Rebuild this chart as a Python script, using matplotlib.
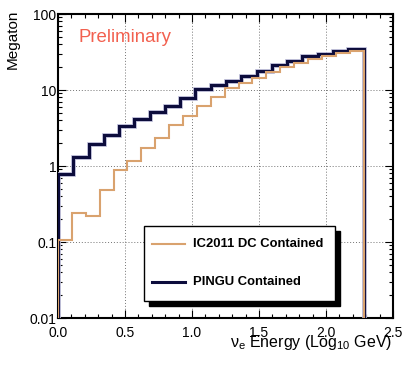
import numpy as np
import matplotlib
matplotlib.use("Agg")
import matplotlib.pyplot as plt
import matplotlib.ticker as ticker
import matplotlib.patheffects as pe
from matplotlib.patches import Rectangle
from matplotlib.lines import Line2D

# data
e_max = 2.28  # upper edge of both histograms, log10 GeV
ic2011 = [0.106, 0.243, 0.22, 0.48, 0.89, 1.15, 1.74, 2.36, 3.43, 4.6, 6.15,
          8.1, 10.5, 12.4, 14.6, 17.5, 20.1, 22.6, 25.6, 27.7, 30.6, 33.0]
pingu = [0.79, 1.31, 1.92, 2.56, 3.36, 4.19, 5.13, 6.08, 7.85, 10.3,
         11.5, 13.2, 15.4, 17.9, 21.1, 24.4, 28.3, 30.1, 32.3, 34.7]
labels = ["IC2011 DC Contained", "PINGU Contained"]
colors = ["#d9a26e", "#0c0c3c"]
ytick_labels = ["0.01", "0.1", "1", "10", "100"]

plt.rcParams["font.family"] = ["Liberation Sans", "DejaVu Sans"]
plt.rcParams["mathtext.default"] = "regular"

W, H = 415, 366
fig = plt.figure(figsize=(W / 100, H / 100), dpi=100)
ax = fig.add_axes([58 / W, 1 - 318 / H, (393 - 58) / W, (318 - 14) / H])

ymin = 0.01
halo = [pe.Stroke(linewidth=3.4, foreground="#b8b8d4"), pe.Normal()]
ax.stairs(pingu, np.linspace(0, e_max, len(pingu) + 1), baseline=ymin,
          color=colors[1], lw=2.2, path_effects=halo, zorder=3)
ax.stairs(ic2011, np.linspace(0, e_max, len(ic2011) + 1), baseline=ymin,
          color=colors[0], lw=1.5, zorder=4)

ax.set_yscale("log")
ax.set_xlim(0, 2.5)
ax.set_ylim(ymin, 100)

ax.xaxis.set_major_locator(ticker.MultipleLocator(0.5))
ax.xaxis.set_minor_locator(ticker.MultipleLocator(0.1))
ax.xaxis.set_major_formatter(ticker.FormatStrFormatter("%.1f"))
ax.yaxis.set_major_locator(ticker.FixedLocator([float(t) for t in ytick_labels]))
ax.yaxis.set_major_formatter(ticker.FixedFormatter(ytick_labels))
ax.yaxis.set_minor_locator(ticker.LogLocator(base=10, subs=np.arange(2, 10)))
ax.yaxis.set_minor_formatter(ticker.NullFormatter())

ax.tick_params(which="both", direction="in", top=True, right=True,
               labelsize=10, width=0.8)
ax.tick_params(which="major", length=6)
ax.tick_params(which="minor", length=3)
ax.tick_params(axis="x", pad=6)
ax.tick_params(axis="y", pad=1)
for s in ax.spines.values():
    s.set_linewidth(1.5)

ax.grid(which="major", ls=(0, (1, 2)), color="0.45", lw=0.7)

ax.text(78 / W, 1 - 38 / H, "Preliminary", transform=fig.transFigure,
        fontsize=13.4, color="#f2604f", va="center", ha="left")

fig.text(20 / W, 1 - 10 / H, "Megaton", rotation=90, ha="right", va="top",
         fontsize=11)
fig.text(392 / W, 1 - 347 / H, r"$\nu_e$ Energy (Log$_{10}$ GeV)",
         ha="right", va="baseline", fontsize=11.5)

# legend box with ROOT-like shadow
bx0, by0, bx1, by1 = 144, 226, 335, 301
sh = 5
fig.patches.append(Rectangle(((bx0 + sh) / W, 1 - (by1 + sh) / H),
                             (bx1 - bx0) / W, (by1 - by0) / H,
                             transform=fig.transFigure, color="black", zorder=5))
fig.patches.append(Rectangle((bx0 / W, 1 - by1 / H), (bx1 - bx0) / W, (by1 - by0) / H,
                             transform=fig.transFigure, facecolor="white",
                             edgecolor="black", lw=1.0, zorder=6))
rows = [244.3, 282.3]
widths = [1.5, 2.2]
for lab, c, lw, yr in zip(labels, colors, widths, rows):
    fig.lines.append(Line2D([152 / W, 185 / W], [1 - yr / H] * 2,
                            transform=fig.transFigure, color=c, lw=lw, zorder=7))
    fig.text(193.3 / W, 1 - yr / H, lab, ha="left", va="center",
             fontsize=9.4, fontweight="bold", zorder=7)

fig.savefig("out.png", dpi=100)
